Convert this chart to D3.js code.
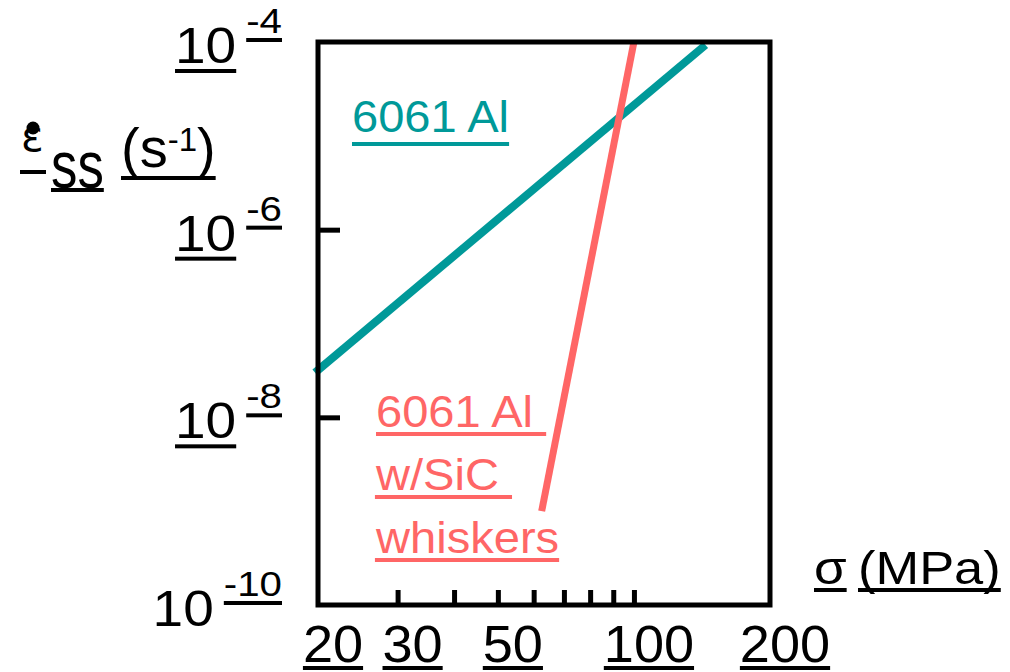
<!DOCTYPE html>
<html>
<head>
<meta charset="utf-8">
<script src="https://cdn.jsdelivr.net/npm/d3@7"></script>
<style>
  body { margin: 0; background: #fff; }
  text { font-family: "Liberation Sans", Arial, sans-serif; }
</style>
</head>
<body>
<div class="chart"></div>
<script>
// stress axis (MPa), log scale
const stressLabels = [20, 30, 50, 100, 200];
const stressTicks = [30, 40, 50, 60, 70, 80, 90, 100];
// strain rate axis (1/s), log scale
const rateTicks = [1e-4, 1e-6, 1e-8, 1e-10];
const rateLabels = [`-4`, `-6`, `-8`, `-10`];
// the two creep lines
const alStress = [19.7, 144];
const alRate = [3.0e-8, 9.3e-5];
const sicStress = [62.5, 100];
const sicRate = [1.0e-9, 1.0e-4];

const TEAL = `#009999`;
const RED = `#ff6666`;

const W = 1010, H = 672;
const margin = { top: 42, right: 240, bottom: 67, left: 318 };
const width = W - margin.left - margin.right;
const height = H - margin.top - margin.bottom;

const x = d3.scaleLog().domain([20, 200]).range([0, width]);
const y = d3.scaleLog().domain([1e-10, 1e-4]).range([height, 0]);

const svg = d3.select(`.chart`).append(`svg`)
  .attr(`width`, W)
  .attr(`height`, H);

const plot = svg.append(`g`)
  .attr(`transform`, `translate(${margin.left},${margin.top})`);

// stretch text horizontally to match the wide lettering of the original
const stretch = (node, k) => {
  const len = node.getComputedTextLength();
  d3.select(node).attr(`textLength`, len * k).attr(`lengthAdjust`, `spacingAndGlyphs`);
};
const underline = (node, yy, thick, color) => {
  const b = node.getBBox();
  svg.append(`rect`)
    .attr(`x`, b.x).attr(`y`, yy)
    .attr(`width`, b.width).attr(`height`, thick)
    .attr(`fill`, color);
};

// lines
const line = d3.line().x(d => x(d[0])).y(d => y(d[1]));
plot.append(`path`)
  .datum(d3.zip(alStress, alRate))
  .attr(`d`, line)
  .attr(`fill`, `none`).attr(`stroke`, TEAL).attr(`stroke-width`, 8);
plot.append(`path`)
  .datum(d3.zip(sicStress, sicRate))
  .attr(`d`, line)
  .attr(`fill`, `none`).attr(`stroke`, RED).attr(`stroke-width`, 7);

// inward ticks
const xAxis = plot.append(`g`)
  .attr(`transform`, `translate(0,${height})`)
  .call(d3.axisBottom(x).tickValues(stressTicks).tickSize(-15).tickFormat(``));
const yAxis = plot.append(`g`)
  .call(d3.axisLeft(y).tickValues([1e-6, 1e-8]).tickSize(-22).tickFormat(``));
[xAxis, yAxis].forEach(a => {
  a.select(`.domain`).remove();
  a.selectAll(`line`).attr(`stroke`, `#000`).attr(`stroke-width`, 5);
});

// frame
plot.append(`rect`)
  .attr(`width`, width).attr(`height`, height)
  .attr(`fill`, `none`).attr(`stroke`, `#000`).attr(`stroke-width`, 5);

// x tick labels
stressLabels.forEach(v => {
  const t = svg.append(`text`)
    .attr(`x`, margin.left + x(v) + 15)
    .attr(`y`, 662)
    .attr(`text-anchor`, `middle`)
    .attr(`font-size`, 52)
    .text(v);
  stretch(t.node(), 1.04);
  underline(t.node(), 666, 4, `#000`);
});

// y tick labels: 10 with superscript exponent
rateTicks.forEach((v, i) => {
  const base = margin.top + y(v) + 21;
  const sup = svg.append(`text`)
    .attr(`x`, 282).attr(`y`, base - 30)
    .attr(`text-anchor`, `end`)
    .attr(`font-size`, 35)
    .text(rateLabels[i]);
  stretch(sup.node(), 1.15);
  const sb = sup.node().getBBox();
  underline(sup.node(), base - 25, 4, `#000`);
  const ten = svg.append(`text`)
    .attr(`x`, sb.x - 10).attr(`y`, base)
    .attr(`text-anchor`, `end`)
    .attr(`font-size`, 50)
    .text(`10`);
  stretch(ten.node(), 1.1);
  if (i < rateTicks.length - 1) underline(ten.node(), base + 6, 4, `#000`);
});

// y axis title
svg.append(`text`)
  .attr(`x`, 21).attr(`y`, 151)
  .style(`font-family`, `"DejaVu Sans", sans-serif`)
  .attr(`font-size`, 42)
  .text(`ε`);
svg.append(`circle`).attr(`cx`, 33).attr(`cy`, 128).attr(`r`, 6.5).attr(`fill`, `#000`);
svg.append(`rect`).attr(`x`, 20).attr(`y`, 170).attr(`width`, 26).attr(`height`, 4).attr(`fill`, `#000`);
const ss = svg.append(`text`)
  .attr(`x`, 51).attr(`y`, 188)
  .attr(`font-size`, 66)
  .text(`ss`);
stretch(ss.node(), 0.8);
underline(ss.node(), 188, 4, `#000`);
const unit = svg.append(`text`)
  .attr(`x`, 121).attr(`y`, 167)
  .attr(`font-size`, 56);
unit.append(`tspan`).text(`(s`);
unit.append(`tspan`).attr(`font-size`, 33).attr(`dy`, -16).text(`-1`);
unit.append(`tspan`).attr(`dy`, 16).text(`)`);
underline(unit.node(), 176, 4, `#000`);

// x axis title
const sigma = svg.append(`text`)
  .attr(`x`, 814).attr(`y`, 584)
  .attr(`font-size`, 46)
  .text(`σ`);
stretch(sigma.node(), 1.15);
underline(sigma.node(), 588, 4, `#000`);
const mpa = svg.append(`text`)
  .attr(`x`, 858).attr(`y`, 584)
  .attr(`font-size`, 46)
  .text(`(MPa)`);
stretch(mpa.node(), 1.14);
underline(mpa.node(), 588, 4, `#000`);

// line labels
const alLabel = svg.append(`text`)
  .attr(`x`, 352).attr(`y`, 132)
  .attr(`font-size`, 44)
  .attr(`fill`, TEAL)
  .text(`6061 Al`);
stretch(alLabel.node(), 1.07);
underline(alLabel.node(), 142, 4, TEAL);

[`6061 Al\u00a0`, `w/SiC\u00a0`, `whiskers`].forEach((s, i) => {
  const t = svg.append(`text`)
    .attr(`x`, 376).attr(`y`, 427 + i * 63)
    .attr(`font-size`, 44)
    .attr(`fill`, RED)
    .text(s);
  stretch(t.node(), 1.07);
  underline(t.node(), 432 + i * 63, 4, RED);
});
</script>
</body>
</html>
